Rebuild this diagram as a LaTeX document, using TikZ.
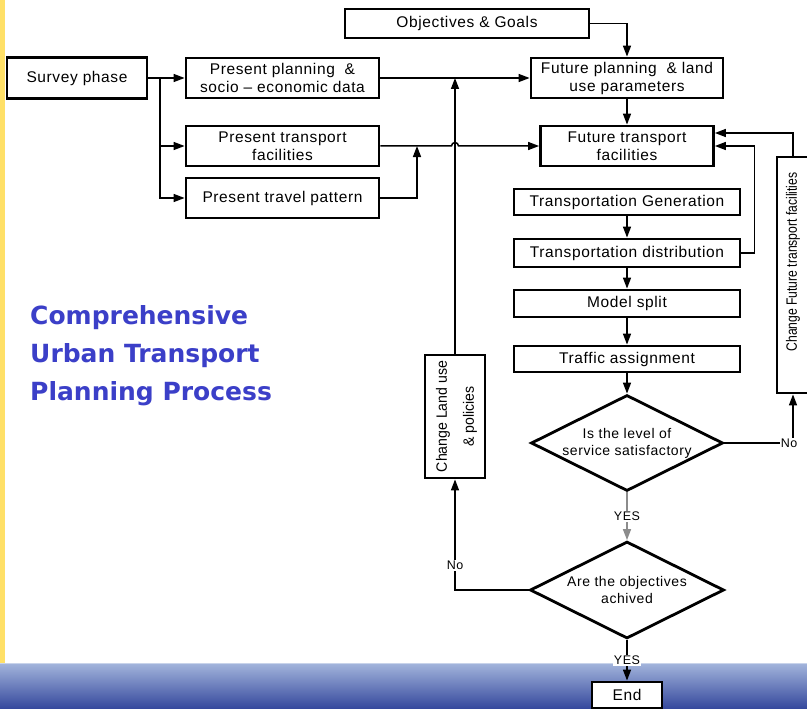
\documentclass[tikz,border=0pt]{standalone}
\usepackage{fontspec}
\setmainfont{Liberation Sans}[LetterSpace=4]
\newfontfamily\rotA{Liberation Sans}[FakeStretch=0.94]
\newfontfamily\rotB{Liberation Sans}[FakeStretch=0.81]
\newfontfamily\headfont{DejaVu Sans Bold}
\usetikzlibrary{shapes.geometric,arrows.meta,calc}

\definecolor{bandtop}{HTML}{A3B5DC}
\definecolor{bandbot}{HTML}{34479C}
\definecolor{stripe}{HTML}{FFE067}
\definecolor{headblue}{HTML}{3B3FC8}

\tikzset{
  box/.style={draw, line width=2.8pt, fill=white, inner sep=0pt, align=center,
              font=\fontsize{15.5}{18}\selectfont},
  decision/.style={diamond, draw, line width=2.8pt, fill=white, inner sep=0pt},
  dtext/.style={align=center, font=\fontsize{14}{17}\selectfont},
  conn/.style={line width=1.5pt, -{Triangle[length=11pt,width=8pt]}},
  lbl/.style={fill=white, inner sep=1pt, font=\fontsize{12.5}{14}\selectfont},
}

\begin{document}
\begin{tikzpicture}[x=1pt, y=-1pt]
  % page frame, side stripe and footer band
  \useasboundingbox (0,0) rectangle (807,709);
  \fill[white] (0,0) rectangle (807,709);
  \fill[stripe] (0,0) rectangle (5,663);
  \shade[top color=bandtop, bottom color=bandbot] (0,663) rectangle (807,709);
  \draw[line width=0.8pt, color=bandtop!60!white] (0,663) -- (807,663);

  % heading
  \node[anchor=west, align=left, inner sep=0pt, text=headblue,
        font=\headfont\fontsize{25}{38}\selectfont] (head) at (30,356)
        {Comprehensive\\Urban Transport\\Planning Process};

  % survey stage
  \node[box, minimum width=140, minimum height=41] (sv) at (77,78) {Survey phase};
  \node[box, minimum width=193, minimum height=40] (pp) at (282.5,78)
        {Present planning \ \&\\socio -- economic data};
  \node[box, minimum width=193, minimum height=40] (pt) at (282.5,146)
        {Present transport\\facilities};
  \node[box, minimum width=193, minimum height=40] (tp) at (282.5,198)
        {Present travel pattern};

  % future scenario
  \node[box, minimum width=244, minimum height=29] (og) at (467,23.5) {Objectives \& Goals};
  \node[box, minimum width=192, minimum height=40] (fp) at (627,78)
        {Future planning \ \& land\\use parameters};
  \node[box, minimum width=173, minimum height=40] (ft) at (627,146)
        {Future transport\\facilities};

  % four-stage model
  \node[box, minimum width=226, minimum height=26] (tg) at (627,202) {Transportation Generation};
  \node[box, minimum width=226, minimum height=28] (td) at (627,253) {Transportation distribution};
  \node[box, minimum width=226, minimum height=27] (ms) at (627,303.5) {Model split};
  \node[box, minimum width=226, minimum height=26] (ta) at (627,359) {Traffic assignment};

  % decisions
  \node[decision, minimum width=192, minimum height=96,
        label={[dtext]center:{Is the level of\\service satisfactory}}] (d1) at (627,443) {};
  \node[decision, minimum width=194, minimum height=97,
        label={[dtext]center:{Are the objectives\\achived}}] (d2) at (627,590) {};

  % feedback boxes
  \node[box, minimum width=60, minimum height=123] (cl) at (455,416.5)
        {\rotatebox{90}{\rotA\fontsize{15}{27}\selectfont
         \begin{tabular}{@{}c@{}}Change Land use\\\& policies\end{tabular}}};
  \node[box, minimum width=32, minimum height=236] (cf) at (793,275)
        {\rotatebox{90}{\rotB\fontsize{15}{18}\selectfont\hspace*{26pt}Change Future transport facilities}};

  \node[box, minimum width=70, minimum height=26] (end) at (627,695) {End};

  % survey branches
  \coordinate (sb) at (160,78);
  \draw[conn] (sv.east) -- (pp.west);
  \draw[conn] (sb) |- (pt.west);
  \draw[conn] (sb) |- (tp.west);

  % into the future boxes
  \draw[conn] (og.east) -| (fp.north);
  \draw[conn] (pp.east) -- (fp.west);
  \draw[conn] (fp.south) -- (ft.north);
  \draw[conn] (pt.east) -- ([xshift=-3.5pt]cl.north |- pt.east)
        arc[start angle=180, end angle=0, radius=3.5pt] -- (ft.west);
  \coordinate (j1) at (417,146);
  \draw[conn] (tp.east) -| (j1);
  \draw[conn] (cl.north) -- (cl.north |- pp.east);
  \draw[conn] (cf.north) |- ([yshift=13pt]ft.east);
  \draw[conn] (td.east) -- ++(13,0) |- (ft.east);

  % model chain
  \draw[conn] (tg.south) -- (td.north);
  \draw[conn] (td.south) -- (ms.north);
  \draw[conn] (ms.south) -- (ta.north);
  \draw[conn] (ta.south) -- (d1.north);

  % decision outcomes
  \draw[conn] (d1.east) -| node[lbl, xshift=-4pt]{No} (cf.south);
  \draw[conn, color=black!45] (d1.south) -- node[lbl, text=black]{YES} (d2.north);
  \draw[conn] (d2.west) -| node[lbl, pos=0.61]{No} (cl.south);
  \draw[conn] (d2.south) -- node[lbl]{YES} (end.north);
\end{tikzpicture}
\end{document}
